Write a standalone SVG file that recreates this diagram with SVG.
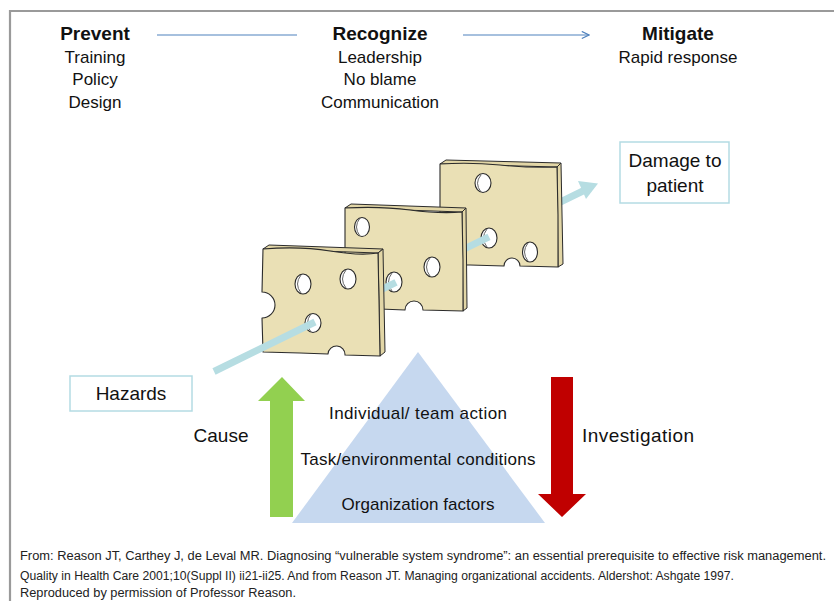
<svg xmlns="http://www.w3.org/2000/svg" width="834" height="601" viewBox="0 0 834 601">
  <style>
    text { font-family: "Liberation Sans", Arial, sans-serif; fill: #111; }
    .head { font-weight: bold; font-size: 19px; text-anchor: middle; }
    .item { font-size: 17px; text-anchor: middle; }
    .lbl { font-size: 19px; text-anchor: middle; }
    .tri { font-size: 17px; text-anchor: middle; }
    .ref { font-size: 12.5px; fill: #222; }
    .box { fill: #fff; stroke: #b4dbe3; stroke-width: 1.5; }
    .flow { stroke: #4f81bd; stroke-width: 1.2; fill: none; }
    .cheese { fill: #eae0b5; stroke: #2b2b2b; stroke-width: 1.1; stroke-linejoin: round; }
    .edge { fill: #e2d6a6; stroke: #2b2b2b; stroke-width: 1; stroke-linejoin: round; }
    .hole { fill: #fff; stroke: #2b2b2b; stroke-width: 1.1; }
    .rim { fill: none; stroke: #555; stroke-width: 0.9; }
    .ray { stroke: #b6dde2; stroke-width: 7; fill: none; }
  </style>
  <defs>
    <marker id="chev" viewBox="0 0 10 10" refX="9" refY="5" markerWidth="9" markerHeight="9" markerUnits="userSpaceOnUse" orient="auto">
      <path d="M1,1 L9,5 L1,9" fill="none" stroke="#4f81bd" stroke-width="1.3"/>
    </marker>
  </defs>

  <!-- frame -->
  <path d="M10,601 V11 H834" fill="none" stroke="#9a9a9a" stroke-width="2.2"/>

  <!-- stage headings -->
  <g id="prevent">
    <text class="head" x="95" y="40">Prevent</text>
    <text class="item" x="95" y="63">Training</text>
    <text class="item" x="95" y="85">Policy</text>
    <text class="item" x="95" y="108">Design</text>
  </g>
  <g id="recognize">
    <text class="head" x="380" y="40">Recognize</text>
    <text class="item" x="380" y="63">Leadership</text>
    <text class="item" x="380" y="85">No blame</text>
    <text class="item" x="380" y="108">Communication</text>
  </g>
  <g id="mitigate">
    <text class="head" x="678" y="40">Mitigate</text>
    <text class="item" x="678" y="63">Rapid response</text>
  </g>

  <!-- cheese slices, drawn back to front with the hazard path threaded through -->
  <g id="ray-exit">
    <line class="ray" x1="489" y1="237" x2="586" y2="189.5"/>
    <polygon points="598,183.5 578,181 586,199" fill="#b6dde2"/>
  </g>

  <g id="slice3">
    <polygon class="edge" points="440,164 446,160 561,163 557,167"/>
    <polygon class="edge" points="557,167 561,163 563,264 558,267"/>
    <path class="cheese" d="M440,164 Q470,162 500,165 T557,167 L558,215 L558,267 L520,266 A8,8 0 0 0 504,266 L470,265 L441,265 L440,215 Z"/>
    <ellipse class="hole" cx="483" cy="183" rx="8" ry="9.5"/>
    <path class="rim" d="M481,175 Q474,183 481,192"/>
    <ellipse class="hole" cx="489" cy="238" rx="8" ry="10"/>
    <path class="rim" d="M487,229 Q480,238 487,247"/>
    <ellipse class="hole" cx="530" cy="252" rx="7.5" ry="10"/>
    <path class="rim" d="M528,243 Q521,252 528,261"/>
  </g>
  <line id="ray-2-3" class="ray" x1="394" y1="283.3" x2="489" y2="236.8"/>

  <g id="slice2">
    <polygon class="edge" points="345,208 351,204 466,208 462,212"/>
    <polygon class="edge" points="462,212 466,208 467,308 463,311"/>
    <path class="cheese" d="M345,208 Q380,206 410,210 T462,212 L463,260 L463,311 L423,310 A9,9 0 0 0 405,310 L380,309 L346,309 L345,260 Z"/>
    <ellipse class="hole" cx="362" cy="227" rx="7.5" ry="9.5"/>
    <path class="rim" d="M360,218 Q353,227 360,236"/>
    <ellipse class="hole" cx="432" cy="267" rx="8" ry="10"/>
    <path class="rim" d="M430,258 Q423,267 430,276"/>
    <ellipse class="hole" cx="394" cy="282" rx="8" ry="10"/>
    <path class="rim" d="M392,273 Q385,282 392,291"/>
  </g>
  <line id="ray-1-2" class="ray" x1="313" y1="323" x2="396" y2="282.3"/>

  <g id="slice1">
    <polygon class="edge" points="263,249 269,245 383,249 378,253"/>
    <polygon class="edge" points="378,253 383,249 385,352 380,356"/>
    <path class="cheese" d="M263,249 Q300,246 330,251 T378,253 L379,300 L380,356 L345,355 A8.5,8.5 0 0 0 328,354 L300,353 L263,352 L262,318 A13,13 0 0 0 262,292 Z"/>
    <ellipse class="hole" cx="303" cy="284" rx="8" ry="10"/>
    <path class="rim" d="M301,275 Q294,284 301,293"/>
    <ellipse class="hole" cx="348" cy="279" rx="8" ry="10"/>
    <path class="rim" d="M346,270 Q339,279 346,288"/>
    <ellipse class="hole" cx="313" cy="323" rx="8" ry="9.5"/>
    <path class="rim" d="M311,314 Q304,323 311,332"/>
  </g>

  <!-- connectors -->
  <g id="connectors">
    <line class="flow" x1="157" y1="35" x2="297" y2="35"/>
    <line class="flow" x1="463" y1="35" x2="589" y2="35" marker-end="url(#chev)"/>
    <line id="ray-entry" class="ray" x1="214" y1="371.5" x2="315" y2="322"/>
    <polygon id="cause-arrow" points="282,377 305,401 293,401 293,517 270,517 270,401 258,401" fill="#92d050"/>
    <polygon id="investigation-arrow" points="551,377 573,377 573,494 586,494 562,517 538,494 551,494" fill="#c00000"/>
  </g>

  <g id="damage">
    <rect class="box" x="620" y="142" width="109" height="61"/>
    <text class="lbl" x="675" y="167">Damage to</text>
    <text class="lbl" x="675" y="192">patient</text>
  </g>

  <g id="hazards">
    <rect class="box" x="70" y="376" width="122" height="35"/>
    <text class="lbl" x="131" y="400" font-size="18.5">Hazards</text>
  </g>

  <g id="cause-label">
    <text class="lbl" x="221" y="442" font-size="18">Cause</text>
  </g>
  <g id="investigation-label">
    <text class="lbl" x="638" y="442" textLength="112">Investigation</text>
  </g>

  <g id="system-levels">
    <polygon points="418,352 545,523 292,523" fill="#c6d8ef"/>
    <text class="tri" x="418" y="419" textLength="178">Individual/ team action</text>
    <text class="tri" x="418" y="465" textLength="235">Task/environmental  conditions</text>
    <text class="tri" x="418" y="510" textLength="153">Organization factors</text>
  </g>

  <g id="reference">
    <text class="ref" x="20" y="560" textLength="806" lengthAdjust="spacingAndGlyphs">From: Reason JT, Carthey J, de Leval MR. Diagnosing “vulnerable system syndrome”: an essential prerequisite  to effective risk management.</text>
    <text class="ref" x="20" y="580" textLength="714" lengthAdjust="spacingAndGlyphs">Quality in Health Care 2001;10(Suppl II) ii21-ii25.  And from Reason  JT. Managing organizational accidents. Aldershot: Ashgate 1997.</text>
    <text class="ref" x="20" y="597" textLength="276" lengthAdjust="spacingAndGlyphs">Reproduced by permission of Professor Reason.</text>
  </g>
</svg>
